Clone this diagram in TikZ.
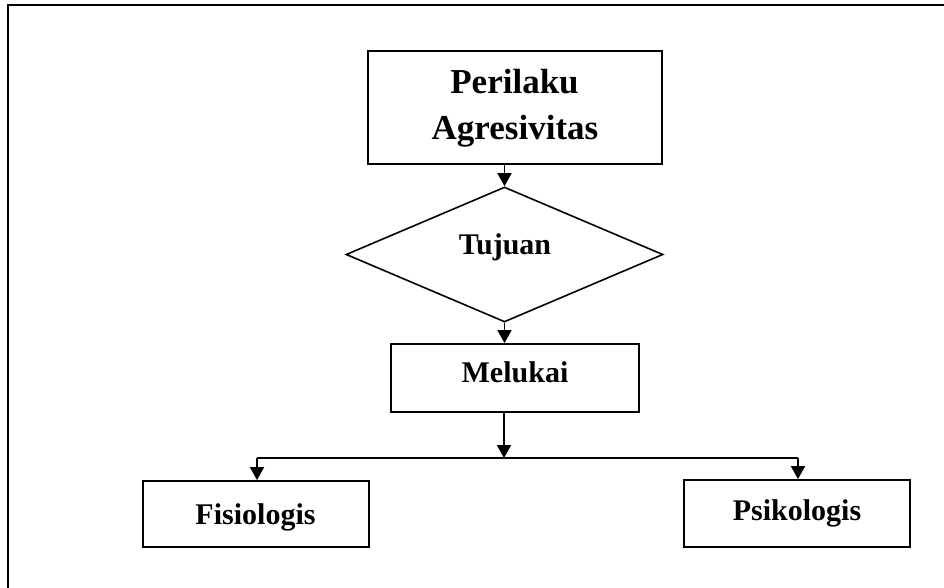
\documentclass[tikz,border=0pt]{standalone}
\usepackage{fontspec}
\setmainfont{Liberation Serif}
\usetikzlibrary{shapes.geometric,arrows.meta}
\begin{document}
\begin{tikzpicture}[x=1pt,y=-1pt,
 box/.style={draw,line width=1.8pt,rectangle,inner sep=0pt},
 dec/.style={draw,line width=1.6pt,diamond,inner sep=0pt,aspect=2.35},
 lbl/.style={font=\fontsize{30}{36}\selectfont\bfseries,anchor=base,inner sep=0pt},
 big/.style={font=\fontsize{35}{42}\selectfont\bfseries,anchor=base,inner sep=0pt},
 conn/.style={line width=1.8pt},
 arr/.style={conn,-{Triangle[length=13pt,width=14pt]}}]
\useasboundingbox (0,0) rectangle (944,588);
\draw[line width=2pt] (7.5,588) -- (7.5,5.5) -- (944,5.5);

\node[box,minimum width=294pt,minimum height=113pt] (per) at (515,107.5) {};
\node[big] (t1) at (514.5,94) {Perilaku};
\node[big] (t2) at (515,140) {Agresivitas};
\node[dec,minimum width=317pt,minimum height=135pt] (dia) at (504.5,254.5) {};
\node[lbl] (t3) at (505,254) {Tujuan};
\node[box,minimum width=248pt,minimum height=68pt] (mel) at (515,378) {};
\node[lbl] (t4) at (515,382) {Melukai};
\node[box,minimum width=226pt,minimum height=66pt] (fis) at (256,514) {};
\node[lbl] (t5) at (255.5,524) {Fisiologis};
\node[box,minimum width=226pt,minimum height=67pt] (psi) at (797,513.5) {};
\node[lbl] (t6) at (797,520) {Psikologis};
\coordinate (j) at (504,458);
\coordinate (jl) at (257,458);
\coordinate (jr) at (798,458);
\draw[arr] (per.south -| dia.north) -- (dia.north);
\draw[arr] (dia.south) -- (dia.south |- mel.north);
\draw[arr] (mel.south -| j) -- (j);
\draw[conn] (jl) -- (jr);
\draw[arr] (jl) -- (jl |- fis.north);
\draw[arr] (jr) -- (jr |- psi.north);
\end{tikzpicture}
\end{document}
